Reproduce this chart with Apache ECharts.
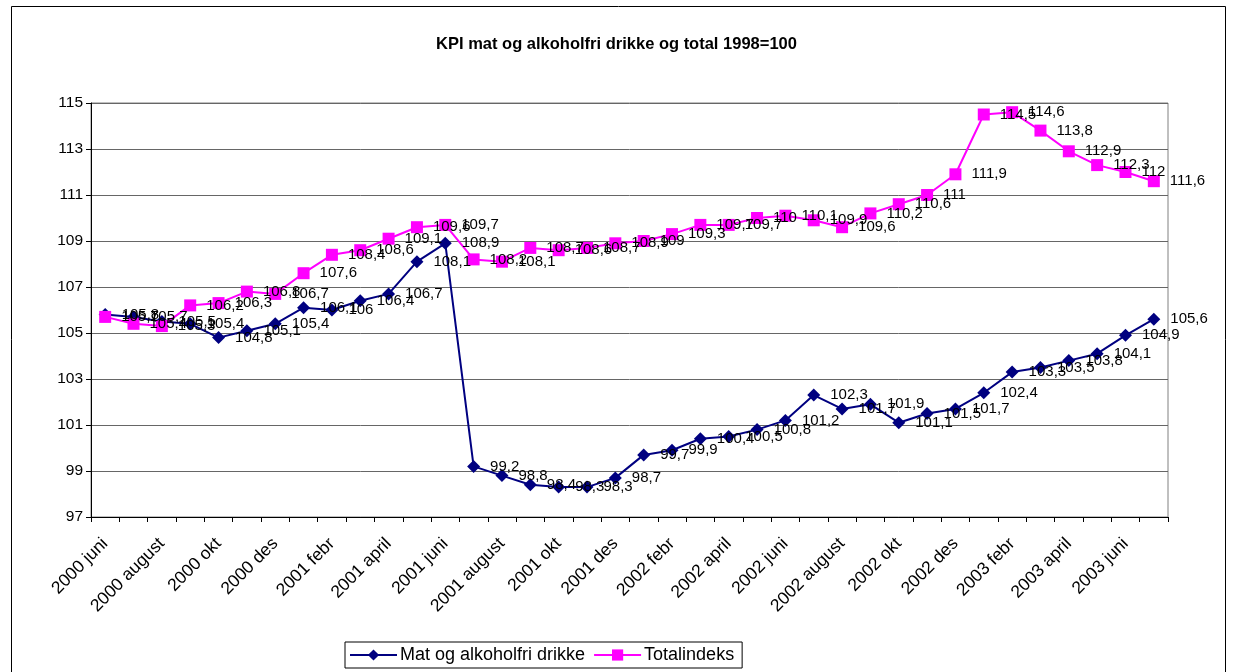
<!DOCTYPE html>
<html>
<head>
<meta charset="utf-8">
<title>KPI mat og alkoholfri drikke</title>
<script src="https://cdn.jsdelivr.net/npm/echarts@6/dist/echarts.min.js"></script>
<style>
    html, body { margin: 0; padding: 0; background: #fff; }
    #chart { width: 1233px; height: 672px; }
</style>
</head>
<body>
<div id="chart"></div>
<script>
    // månedene, juni 2000 - juli 2003
    const months = [
        '2000 juni', '2000 juli', '2000 august', '2000 sept', '2000 okt', '2000 nov', '2000 des',
        '2001 jan', '2001 febr', '2001 mars', '2001 april', '2001 mai', '2001 juni', '2001 juli',
        '2001 august', '2001 sept', '2001 okt', '2001 nov', '2001 des',
        '2002 jan', '2002 febr', '2002 mars', '2002 april', '2002 mai', '2002 juni', '2002 juli',
        '2002 august', '2002 sept', '2002 okt', '2002 nov', '2002 des',
        '2003 jan', '2003 febr', '2003 mars', '2003 april', '2003 mai', '2003 juni', '2003 juli'
    ];
    const matOgDrikke = [
        105.8, 105.7, 105.5, 105.4, 104.8, 105.1, 105.4, 106.1, 106, 106.4,
        106.7, 108.1, 108.9, 99.2, 98.8, 98.4, 98.3, 98.3, 98.7, 99.7,
        99.9, 100.4, 100.5, 100.8, 101.2, 102.3, 101.7, 101.9, 101.1, 101.5,
        101.7, 102.4, 103.3, 103.5, 103.8, 104.1, 104.9, 105.6
    ];
    const totalindeks = [
        105.7, 105.4, 105.3, 106.2, 106.3, 106.8, 106.7, 107.6, 108.4, 108.6,
        109.1, 109.6, 109.7, 108.2, 108.1, 108.7, 108.6, 108.7, 108.9, 109,
        109.3, 109.7, 109.7, 110, 110.1, 109.9, 109.6, 110.2, 110.6, 111,
        111.9, 114.5, 114.6, 113.8, 112.9, 112.3, 112, 111.6
    ];
    const yMin = 97, yMax = 115, yStep = 2;

    const font = 'Liberation Sans, Arial, sans-serif';
    // komma som desimaltegn
    const komma = p => String(p.value).replace('.', ',');

    const chart = echarts.init(document.getElementById('chart'));
    chart.setOption({
        animation: false,
        textStyle: { fontFamily: font, color: '#000' },
        title: {
            text: 'KPI mat og alkoholfri drikke og total 1998=100',
            left: 'center',
            top: 31,
            textStyle: { fontSize: 16.5, fontWeight: 'bold', fontFamily: font, color: '#000' }
        },
        graphic: [{
            type: 'rect',
            shape: { x: 11.5, y: 6.5, width: 1214, height: 700 },
            style: { fill: 'none', stroke: '#000', lineWidth: 1 },
            silent: true
        }],
        grid: {
            left: 91,
            right: 65,
            top: 103,
            bottom: 155,
            show: true,
            borderColor: '#808080',
            borderWidth: 1
        },
        legend: {
            left: 345,
            top: 642,
            itemWidth: 47,
            itemHeight: 14,
            itemGap: 8,
            padding: [4, 8, 4, 4],
            borderColor: '#000',
            borderWidth: 1,
            backgroundColor: '#fff',
            textStyle: { fontSize: 18, fontFamily: font, color: '#000', padding: [0, 0, 0, -2] },
            data: ['Mat og alkoholfri drikke', 'Totalindeks']
        },
        xAxis: {
            type: 'category',
            data: months,
            boundaryGap: true,
            axisLine: { lineStyle: { color: '#000', width: 1 } },
            axisTick: { show: true, interval: 0, length: 5, lineStyle: { color: '#000' } },
            axisLabel: {
                interval: 1,
                rotate: 45,
                margin: 24,
                fontSize: 17.5,
                fontFamily: font,
                color: '#000'
            }
        },
        yAxis: {
            type: 'value',
            min: yMin,
            max: yMax,
            interval: yStep,
            axisLine: { show: true, lineStyle: { color: '#000', width: 1 } },
            axisTick: { show: true, length: 5, lineStyle: { color: '#000' } },
            axisLabel: { fontSize: 15.5, fontFamily: font, color: '#000', margin: 8 },
            splitLine: { lineStyle: { color: '#666', width: 1 } }
        },
        series: [
            {
                name: 'Mat og alkoholfri drikke',
                type: 'line',
                data: matOgDrikke,
                symbol: 'diamond',
                symbolSize: 13,
                lineStyle: { color: '#000080', width: 2 },
                itemStyle: { color: '#000080' },
                label: {
                    show: true,
                    position: 'right',
                    distance: 10,
                    fontSize: 15,
                    fontFamily: font,
                    color: '#000',
                    formatter: komma
                }
            },
            {
                name: 'Totalindeks',
                type: 'line',
                data: totalindeks,
                symbol: 'rect',
                symbolSize: 12,
                lineStyle: { color: '#ff00ff', width: 2 },
                itemStyle: { color: '#ff00ff' },
                label: {
                    show: true,
                    position: 'right',
                    distance: 10,
                    fontSize: 15,
                    fontFamily: font,
                    color: '#000',
                    formatter: komma
                }
            }
        ]
    });
</script>
</body>
</html>
